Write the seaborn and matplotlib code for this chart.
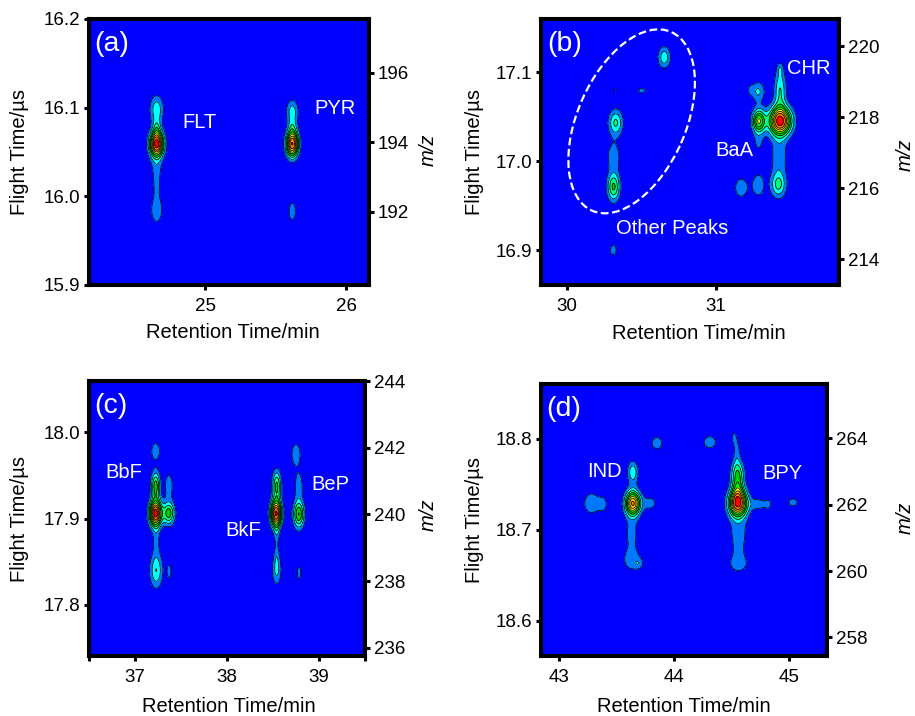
import numpy as np
import matplotlib
matplotlib.use("Agg")
import matplotlib.pyplot as plt
from matplotlib.patches import Ellipse
from matplotlib.transforms import Affine2D
import seaborn as sns

sns.set_theme(style="ticks")
plt.rcParams["font.family"] = ["Liberation Sans", "DejaVu Sans"]
plt.rcParams["text.color"] = "black"
plt.rcParams["axes.labelcolor"] = "black"
plt.rcParams["xtick.labelcolor"] = "black"
plt.rcParams["ytick.labelcolor"] = "black"

# peaks: retention time, flight time, width rt, width tof, height
peaks_a = [
    (24.657, 16.059, 0.034, 0.0100, 0.98),
    (24.657, 16.098, 0.034, 0.011, 0.27),
    (24.657, 16.077, 0.020, 0.008, 0.18),
    (24.657, 16.032, 0.030, 0.012, 0.13),
    (24.657, 16.012, 0.016, 0.010, 0.12),
    (24.657, 15.985, 0.034, 0.0127, 0.17),
]
peaks_a += [
    (25.619, 16.059, 0.030, 0.0100, 0.92),
    (25.619, 16.096, 0.030, 0.009, 0.25),
    (25.619, 16.078, 0.024, 0.008, 0.17),
    (25.619, 15.983, 0.022, 0.0095, 0.16),
]
peaks_b = [
    (30.655, 17.1165, 0.030, 0.0085, 0.27),
    (30.322, 17.080, 0.008, 0.003, 0.11),
    (30.503, 17.079, 0.025, 0.0035, 0.13),
    (30.329, 17.043, 0.034, 0.0103, 0.32),
    (30.315, 16.971, 0.030, 0.011, 0.42),
    (30.315, 17.005, 0.034, 0.012, 0.17),
    (30.313, 16.900, 0.025, 0.007, 0.13),
    (31.289, 17.045, 0.030, 0.009, 0.60),
    (31.284, 17.078, 0.032, 0.008, 0.22),
    (31.235, 17.080, 0.014, 0.004, 0.12),
    (31.287, 17.020, 0.028, 0.010, 0.11),
    (31.287, 16.973, 0.036, 0.012, 0.15),
    (31.170, 16.970, 0.040, 0.0105, 0.15),
    (31.432, 17.045, 0.052, 0.011, 0.97),
    (31.432, 17.080, 0.028, 0.016, 0.30),
    (31.432, 17.103, 0.014, 0.005, 0.13),
    (31.420, 16.973, 0.036, 0.010, 0.30),
    (31.425, 17.005, 0.040, 0.020, 0.17),
]
peaks_c = [
    (37.224, 17.906, 0.046, 0.0105, 0.98),
    (37.224, 17.938, 0.034, 0.011, 0.45),
    (37.368, 17.906, 0.045, 0.009, 0.45),
    (37.368, 17.938, 0.037, 0.012, 0.16),
    (37.224, 17.978, 0.050, 0.0105, 0.14),
    (37.231, 17.840, 0.049, 0.014, 0.30),
    (37.231, 17.875, 0.028, 0.012, 0.13),
    (37.372, 17.839, 0.025, 0.009, 0.13),
    (38.534, 17.906, 0.042, 0.0105, 0.92),
    (38.540, 17.938, 0.034, 0.012, 0.42),
    (38.540, 17.840, 0.037, 0.012, 0.22),
    (38.540, 17.858, 0.022, 0.010, 0.11),
    (38.540, 17.885, 0.024, 0.010, 0.15),
    (38.780, 17.905, 0.042, 0.011, 0.50),
    (38.780, 17.938, 0.034, 0.012, 0.17),
    (38.750, 17.974, 0.042, 0.011, 0.17),
    (38.784, 17.837, 0.025, 0.009, 0.13),
]
peaks_d = [
    (43.640, 18.729, 0.046, 0.0095, 0.82),
    (43.790, 18.729, 0.050, 0.006, 0.14),
    (43.640, 18.763, 0.033, 0.0085, 0.28),
    (43.630, 18.696, 0.048, 0.0127, 0.13),
    (43.630, 18.667, 0.064, 0.0102, 0.15),
    (43.690, 18.663, 0.028, 0.004, 0.11),
    (43.280, 18.729, 0.060, 0.0105, 0.16),
    (43.384, 18.728, 0.033, 0.007, 0.11),
    (43.850, 18.795, 0.050, 0.0072, 0.14),
    (44.310, 18.796, 0.060, 0.0072, 0.14),
    (44.555, 18.729, 0.056, 0.0105, 0.94),
    (44.552, 18.761, 0.040, 0.011, 0.38),
    (44.552, 18.744, 0.036, 0.010, 0.20),
    (44.735, 18.728, 0.060, 0.005, 0.15),
    (44.546, 18.787, 0.022, 0.012, 0.12),
    (44.520, 18.801, 0.016, 0.006, 0.11),
    (44.560, 18.696, 0.063, 0.013, 0.14),
    (44.560, 18.678, 0.030, 0.009, 0.11),
    (44.560, 18.663, 0.070, 0.008, 0.15),
    (45.035, 18.730, 0.058, 0.006, 0.12),
    (44.820, 18.728, 0.020, 0.004, 0.11),
]

levels = [0, 0.1, 0.2, 0.3, 0.4, 0.5, 0.6, 0.7, 0.8, 0.92, 1.01]
level_colors = ["#0000ff", "#0078ff", "#00ffff", "#00ff80", "#00d000",
                "#00ff00", "#ffff00", "#ffc800", "#ff8000", "#ff0000"]

W, H = 915, 716

# pixel box, limits, ticks and labels of each panel
panels = [
    dict(box=(89, 19, 369, 285), xlim=(24.177, 26.163), ylim=(15.9, 16.2), mz=(189.9, 197.54),
         xticks=[25, 26], xlabels=["25", "26"], yticks=[15.9, 16.0, 16.1, 16.2],
         mzticks=[192, 194, 196], peaks=peaks_a, tag="(a)",
         ylab_x=20, mz_x=428, mz_y=150, xlab=(233, 333),
         names=[("FLT", 200, 122), ("PYR", 335, 109)]),
    dict(box=(541, 19, 839, 285), xlim=(29.828, 31.827), ylim=(16.8607, 17.1596), mz=(213.28, 220.76),
         xticks=[30, 31], xlabels=["30", "31"], yticks=[16.9, 17.0, 17.1],
         mzticks=[214, 216, 218, 220], peaks=peaks_b, tag="(b)",
         ylab_x=474, mz_x=905, mz_y=155, xlab=(699, 334),
         names=[("CHR", 809, 68), ("BaA", 734, 150), ("Other Peaks", 672, 228)]),
    dict(box=(89, 381, 365, 656), xlim=(36.5, 39.5), ylim=(17.741, 18.059), mz=(235.75, 244),
         xticks=[36.5, 37, 38, 39, 39.5], xlabels=["", "37", "38", "39", ""], yticks=[17.8, 17.9, 18.0],
         mzticks=[236, 238, 240, 242, 244], peaks=peaks_c, tag="(c)",
         ylab_x=20, mz_x=428, mz_y=515, xlab=(229, 706),
         names=[("BbF", 124, 473), ("BeP", 330, 485), ("BkF", 243, 530)]),
    dict(box=(541, 384, 827, 656), xlim=(42.84, 45.331), ylim=(18.5615, 18.8598), mz=(257.44, 265.64),
         xticks=[43, 44, 45], xlabels=["43", "44", "45"], yticks=[18.6, 18.7, 18.8],
         mzticks=[258, 260, 262, 264], peaks=peaks_d, tag="(d)",
         ylab_x=474, mz_x=905, mz_y=518, xlab=(684, 706),
         names=[("IND", 604, 471), ("BPY", 782, 473)]),
]

fig = plt.figure(figsize=(W / 100, H / 100), dpi=100)

for p in panels:
    x0, y0, x1, y1 = p["box"]
    ax = fig.add_axes([x0 / W, 1 - y1 / H, (x1 - x0) / W, (y1 - y0) / H])

    # build the intensity map out of the peak table
    rt = np.linspace(p["xlim"][0], p["xlim"][1], 500)
    tof = np.linspace(p["ylim"][0], p["ylim"][1], 500)
    xx, yy = np.meshgrid(rt, tof)
    zz = np.zeros_like(xx)
    for cx, cy, sx, sy, h in p["peaks"]:
        zz += h * np.exp(-0.5 * ((xx - cx) / sx) ** 2 - 0.5 * ((yy - cy) / sy) ** 2)
    zz = np.clip(zz, 0, 1.0)

    ax.contourf(xx, yy, zz, levels=levels, colors=level_colors)
    ax.contour(xx, yy, zz, levels=levels[1:-1], colors="black", linewidths=0.55)

    ax.set_xlim(p["xlim"])
    ax.set_ylim(p["ylim"])
    ax.set_xticks(p["xticks"])
    ax.set_xticklabels(p["xlabels"])
    ax.set_yticks(p["yticks"])
    ax.set_yticklabels([f"{t:.1f}" for t in p["yticks"]])
    ax.tick_params(axis="x", length=3.5, width=2.2, labelsize=13.5, color="black", pad=6)
    ax.tick_params(axis="y", length=3.5, width=2.2, labelsize=13.5, color="black", pad=3)
    ax.grid(False)

    ax2 = ax.twinx()
    ax2.set_ylim(p["mz"])
    ax2.set_yticks(p["mzticks"])
    ax2.tick_params(length=3.5, width=2.2, labelsize=13.5, color="black", pad=3)
    ax2.grid(False)
    for a in (ax, ax2):
        for s in a.spines.values():
            s.set_linewidth(2.9)
            s.set_color("black")

    # axis titles sit at fixed pixel places
    fig.text(p["xlab"][0] / W, 1 - p["xlab"][1] / H, "Retention Time/min", fontsize=14.5, ha="center", va="center")
    fig.text(p["ylab_x"] / W, 1 - (y0 + y1) / 2 / H, "Flight Time/µs", fontsize=14.5, rotation=90, ha="center", va="center")
    fig.text(p["mz_x"] / W, 1 - p["mz_y"] / H, "m/z", fontsize=14.5, style="italic", rotation=90, ha="center", va="center")

    ax.text(0.02, 0.955, p["tag"], transform=ax.transAxes, color="white", fontsize=20.5, va="top", ha="left")
    for name, px, py in p["names"]:
        ax.text((px - x0) / (x1 - x0), (y1 - py) / (y1 - y0), name, transform=ax.transAxes,
                color="white", fontsize=14.5, ha="center", va="center")

    if p["tag"] == "(b)":
        cx, cy = ax.transData.transform((30.436, 17.0446))
        ax.add_patch(Ellipse((0, 0), 195.4, 108, angle=66.1, fill=False, ec="white", lw=1.6,
                             ls=(0, (3.5, 1.6)), transform=Affine2D().translate(cx, cy)))

fig.savefig("out.png", dpi=100)
